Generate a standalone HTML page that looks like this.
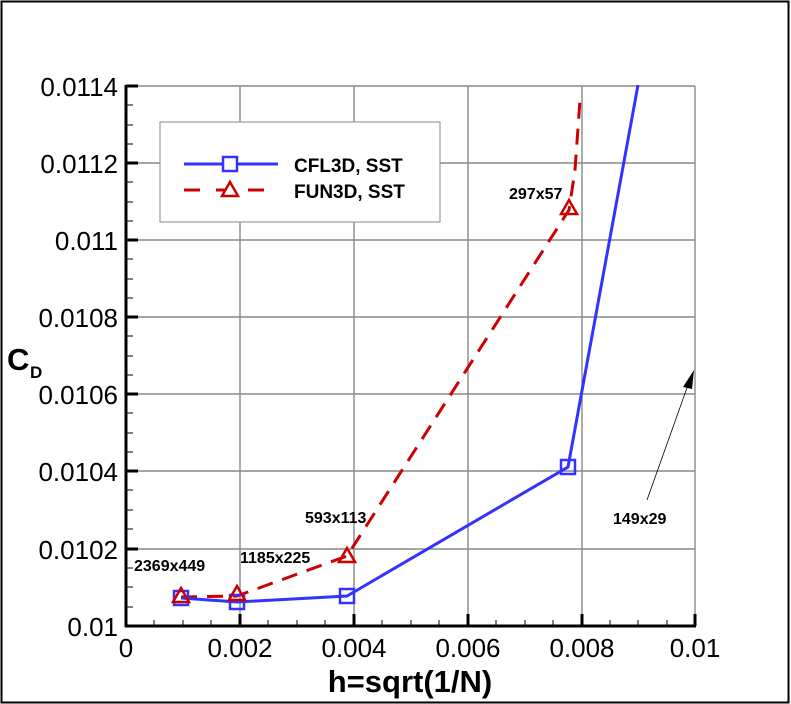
<!DOCTYPE html>
<html><head><style>
html,body{margin:0;padding:0;background:#fff}
svg{display:block}
text{font-family:"Liberation Sans",Arial,sans-serif}
</style></head><body>
<svg width="791" height="704" viewBox="0 0 791 704" xmlns="http://www.w3.org/2000/svg">
<rect x="1.5" y="1.5" width="787" height="701" fill="#fff" stroke="#000" stroke-width="2"/>
<!-- grid -->
<g stroke="#888" stroke-width="1.4">
<line x1="240" y1="86" x2="240" y2="626"/><line x1="354" y1="86" x2="354" y2="626"/>
<line x1="468" y1="86" x2="468" y2="626"/><line x1="582" y1="86" x2="582" y2="626"/>
<line x1="695" y1="86" x2="695" y2="626"/>
<line x1="126" y1="86" x2="695" y2="86"/><line x1="126" y1="163" x2="695" y2="163"/>
<line x1="126" y1="240" x2="695" y2="240"/><line x1="126" y1="317" x2="695" y2="317"/>
<line x1="126" y1="394" x2="695" y2="394"/><line x1="126" y1="471" x2="695" y2="471"/>
<line x1="126" y1="549" x2="695" y2="549"/>
</g>
<!-- axes -->
<g stroke="#000">
<line x1="126" y1="85" x2="126" y2="627" stroke-width="3"/>
<line x1="125" y1="626" x2="696" y2="626" stroke-width="3"/>
<g stroke-width="3">
<line x1="126" y1="86" x2="138" y2="86"/><line x1="126" y1="163" x2="138" y2="163"/><line x1="126" y1="240" x2="138" y2="240"/><line x1="126" y1="317" x2="138" y2="317"/><line x1="126" y1="394" x2="138" y2="394"/><line x1="126" y1="471" x2="138" y2="471"/><line x1="126" y1="549" x2="138" y2="549"/>
<line x1="240" y1="626" x2="240" y2="614"/><line x1="354" y1="626" x2="354" y2="614"/><line x1="468" y1="626" x2="468" y2="614"/><line x1="582" y1="626" x2="582" y2="614"/><line x1="695" y1="626" x2="695" y2="614"/>
</g>
<g stroke-width="1">
<line x1="126" y1="105" x2="133" y2="105"/><line x1="126" y1="125" x2="133" y2="125"/><line x1="126" y1="144" x2="133" y2="144"/>
<line x1="126" y1="182" x2="133" y2="182"/><line x1="126" y1="202" x2="133" y2="202"/><line x1="126" y1="221" x2="133" y2="221"/>
<line x1="126" y1="259" x2="133" y2="259"/><line x1="126" y1="279" x2="133" y2="279"/><line x1="126" y1="298" x2="133" y2="298"/>
<line x1="126" y1="336" x2="133" y2="336"/><line x1="126" y1="356" x2="133" y2="356"/><line x1="126" y1="375" x2="133" y2="375"/>
<line x1="126" y1="413" x2="133" y2="413"/><line x1="126" y1="433" x2="133" y2="433"/><line x1="126" y1="452" x2="133" y2="452"/>
<line x1="126" y1="490" x2="133" y2="490"/><line x1="126" y1="510" x2="133" y2="510"/><line x1="126" y1="529" x2="133" y2="529"/>
<line x1="126" y1="568" x2="133" y2="568"/><line x1="126" y1="587" x2="133" y2="587"/><line x1="126" y1="607" x2="133" y2="607"/>
<line x1="154" y1="626" x2="154" y2="620"/><line x1="183" y1="626" x2="183" y2="620"/><line x1="211" y1="626" x2="211" y2="620"/>
<line x1="268" y1="626" x2="268" y2="620"/><line x1="297" y1="626" x2="297" y2="620"/><line x1="325" y1="626" x2="325" y2="620"/>
<line x1="382" y1="626" x2="382" y2="620"/><line x1="411" y1="626" x2="411" y2="620"/><line x1="439" y1="626" x2="439" y2="620"/>
<line x1="496" y1="626" x2="496" y2="620"/><line x1="525" y1="626" x2="525" y2="620"/><line x1="553" y1="626" x2="553" y2="620"/>
<line x1="610" y1="626" x2="610" y2="620"/><line x1="638" y1="626" x2="638" y2="620"/><line x1="667" y1="626" x2="667" y2="620"/>
</g>
</g>
<!-- tick labels -->
<g font-size="26" text-anchor="end">
<text x="118" y="96">0.0114</text><text x="118" y="173">0.0112</text><text x="118" y="250">0.011</text>
<text x="118" y="327">0.0108</text><text x="118" y="404">0.0106</text><text x="118" y="481">0.0104</text>
<text x="118" y="559">0.0102</text><text x="118" y="636">0.01</text>
</g>
<g font-size="26" text-anchor="middle">
<text x="126" y="657">0</text><text x="240" y="657">0.002</text><text x="354" y="657">0.004</text>
<text x="468" y="657">0.006</text><text x="582" y="657">0.008</text><text x="695" y="657">0.01</text>
</g>
<text x="410" y="692" font-size="31" font-weight="bold" text-anchor="middle">h=sqrt(1/N)</text>
<text x="7" y="370" font-size="31" font-weight="bold">C</text><text x="30" y="378" font-size="17" font-weight="bold">D</text>
<!-- series -->
<polyline fill="none" stroke="#c00" stroke-width="3" stroke-dasharray="16,10" points="181,597 237,596 347,556 569,210 575,170 580,100"/>
<polyline fill="none" stroke="#33f" stroke-width="3" points="181,598 237,602 347,596 568,467 638,85"/>
<g fill="none" stroke="#33f" stroke-width="2.5">
<rect x="174" y="591" width="14" height="14"/><rect x="230" y="595" width="14" height="14"/><rect x="340" y="589" width="14" height="14"/><rect x="561" y="460" width="14" height="14"/>
</g>
<g fill="none" stroke="#c00" stroke-width="2.5">
<polygon points="181,588 173,602 189,602"/><polygon points="237,586 229,600 245,600"/><polygon points="347,548 339,562 355,562"/><polygon points="569,200 561,214 577,214"/>
</g>
<!-- annotations -->
<g font-size="16" font-weight="bold">
<text x="134" y="571">2369x449</text><text x="240" y="563">1185x225</text><text x="305" y="523">593x113</text>
<text x="509" y="199">297x57</text><text x="613" y="524">149x29</text>
</g>
<line x1="647" y1="500" x2="688" y2="385" stroke="#000" stroke-width="0.8"/>
<polygon points="694,370 683,387 692,389" fill="#000"/>
<!-- legend -->
<rect x="160" y="122" width="280" height="100" fill="#fff" stroke="#888" stroke-width="1"/>
<line x1="184" y1="164" x2="278" y2="164" stroke="#33f" stroke-width="3"/>
<rect x="223" y="157" width="14" height="14" fill="#fff" stroke="#33f" stroke-width="2.5"/>
<line x1="184" y1="190" x2="278" y2="190" stroke="#c00" stroke-width="3" stroke-dasharray="16,16"/>
<polygon points="230,182 222,196 238,196" fill="#fff" stroke="#c00" stroke-width="2.5"/>
<text x="294" y="172" font-size="19" font-weight="bold">CFL3D, SST</text>
<text x="294" y="198" font-size="19" font-weight="bold">FUN3D, SST</text>
</svg>
</body></html>
